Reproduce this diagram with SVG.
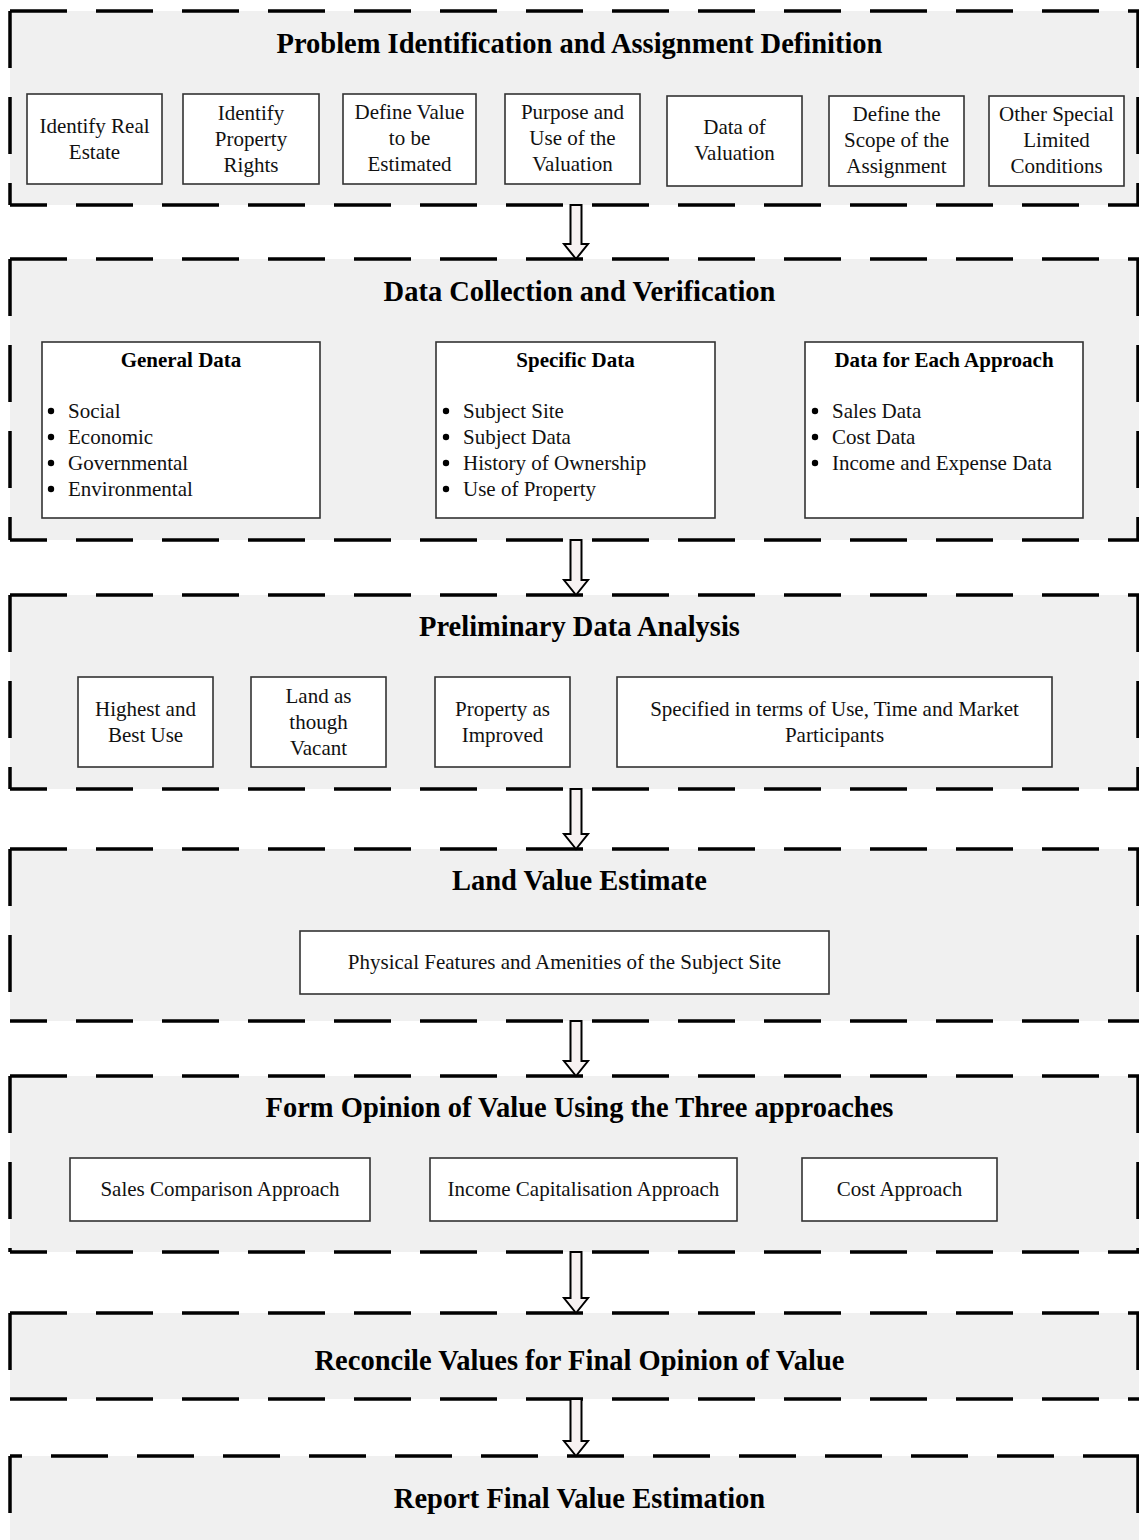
<svg xmlns="http://www.w3.org/2000/svg" width="1139" height="1540" viewBox="0 0 1139 1540">
  <style>
    .panel { fill: #f0f0f0; }
    .edge { stroke: #000; stroke-width: 3.5; stroke-dasharray: 57 29; fill: none; }
    .box { fill: #fff; stroke: #333; stroke-width: 1.6; }
    .title { font-family: "Liberation Serif", "Times New Roman", serif; font-weight: bold; font-size: 28.5px; text-anchor: middle; fill: #000; }
    .head { font-family: "Liberation Serif", "Times New Roman", serif; font-weight: bold; font-size: 21px; text-anchor: middle; fill: #000; }
    .lbl { font-family: "Liberation Serif", "Times New Roman", serif; font-size: 21px; text-anchor: middle; fill: #111; }
    .item { font-family: "Liberation Serif", "Times New Roman", serif; font-size: 21px; fill: #111; }
    .dot { fill: #000; }
    .arrow { fill: #f7f2f2; stroke: #000; stroke-width: 2; stroke-linejoin: miter; }
  </style>

  <!-- Stage 1 -->
  <g id="stage-problem">
    <rect class="panel" x="10" y="11" width="1130" height="194"/>
    <line class="edge" x1="10" y1="11" x2="1140" y2="11"/>
    <line class="edge" x1="10" y1="11" x2="10" y2="205"/>
    <line class="edge" x1="1138" y1="11" x2="1138" y2="205"/>
    <line class="edge" x1="10" y1="205" x2="1140" y2="205" stroke-dashoffset="20"/>
    <text class="title" x="579.5" y="53">Problem Identification and Assignment Definition</text>
  </g>
  <g id="identify-real-estate">
    <rect class="box" x="27" y="94" width="135" height="90"/>
    <text class="lbl" x="94.5" y="133">Identify Real</text>
    <text class="lbl" x="94.5" y="159">Estate</text>
  </g>
  <g id="identify-property-rights">
    <rect class="box" x="183" y="94" width="136" height="90"/>
    <text class="lbl" x="251" y="120">Identify</text>
    <text class="lbl" x="251" y="146">Property</text>
    <text class="lbl" x="251" y="172">Rights</text>
  </g>
  <g id="define-value">
    <rect class="box" x="343" y="94" width="133" height="90"/>
    <text class="lbl" x="409.5" y="119">Define Value</text>
    <text class="lbl" x="409.5" y="145">to be</text>
    <text class="lbl" x="409.5" y="171">Estimated</text>
  </g>
  <g id="purpose-use">
    <rect class="box" x="505" y="94" width="135" height="90"/>
    <text class="lbl" x="572.5" y="119">Purpose and</text>
    <text class="lbl" x="572.5" y="145">Use of the</text>
    <text class="lbl" x="572.5" y="171">Valuation</text>
  </g>
  <g id="data-of-valuation">
    <rect class="box" x="667" y="96" width="135" height="90"/>
    <text class="lbl" x="734.5" y="134">Data of</text>
    <text class="lbl" x="734.5" y="160">Valuation</text>
  </g>
  <g id="scope-of-assignment">
    <rect class="box" x="829" y="96" width="135" height="90"/>
    <text class="lbl" x="896.5" y="121">Define the</text>
    <text class="lbl" x="896.5" y="147">Scope of the</text>
    <text class="lbl" x="896.5" y="173">Assignment</text>
  </g>
  <g id="special-conditions">
    <rect class="box" x="989" y="96" width="135" height="90"/>
    <text class="lbl" x="1056.5" y="121">Other Special</text>
    <text class="lbl" x="1056.5" y="147">Limited</text>
    <text class="lbl" x="1056.5" y="173">Conditions</text>
  </g>

  <!-- Stage 2 -->
  <g id="stage-data-collection">
    <rect class="panel" x="10" y="259" width="1130" height="281"/>
    <line class="edge" x1="10" y1="259" x2="1140" y2="259"/>
    <line class="edge" x1="10" y1="259" x2="10" y2="540"/>
    <line class="edge" x1="1138" y1="259" x2="1138" y2="540"/>
    <line class="edge" x1="10" y1="540" x2="1140" y2="540" stroke-dashoffset="20"/>
    <text class="title" x="579.5" y="301">Data Collection and Verification</text>
  </g>
  <g id="general-data">
    <rect class="box" x="42" y="342" width="278" height="176"/>
    <text class="head" x="181" y="367">General Data</text>
    <circle class="dot" cx="51" cy="411" r="3.2"/>
    <circle class="dot" cx="51" cy="437" r="3.2"/>
    <circle class="dot" cx="51" cy="463" r="3.2"/>
    <circle class="dot" cx="51" cy="489" r="3.2"/>
    <text class="item" x="68" y="418">Social</text>
    <text class="item" x="68" y="444">Economic</text>
    <text class="item" x="68" y="470">Governmental</text>
    <text class="item" x="68" y="496">Environmental</text>
  </g>
  <g id="specific-data">
    <rect class="box" x="436" y="342" width="279" height="176"/>
    <text class="head" x="575.5" y="367">Specific Data</text>
    <circle class="dot" cx="446" cy="411" r="3.2"/>
    <circle class="dot" cx="446" cy="437" r="3.2"/>
    <circle class="dot" cx="446" cy="463" r="3.2"/>
    <circle class="dot" cx="446" cy="489" r="3.2"/>
    <text class="item" x="463" y="418">Subject Site</text>
    <text class="item" x="463" y="444">Subject Data</text>
    <text class="item" x="463" y="470">History of Ownership</text>
    <text class="item" x="463" y="496">Use of Property</text>
  </g>
  <g id="approach-data">
    <rect class="box" x="805" y="342" width="278" height="176"/>
    <text class="head" x="944" y="367">Data for Each Approach</text>
    <circle class="dot" cx="815" cy="411" r="3.2"/>
    <circle class="dot" cx="815" cy="437" r="3.2"/>
    <circle class="dot" cx="815" cy="463" r="3.2"/>
    <text class="item" x="832" y="418">Sales Data</text>
    <text class="item" x="832" y="444">Cost Data</text>
    <text class="item" x="832" y="470">Income and Expense Data</text>
  </g>

  <!-- Stage 3 -->
  <g id="stage-preliminary">
    <rect class="panel" x="10" y="595" width="1130" height="194"/>
    <line class="edge" x1="10" y1="595" x2="1140" y2="595"/>
    <line class="edge" x1="10" y1="595" x2="10" y2="789"/>
    <line class="edge" x1="1138" y1="595" x2="1138" y2="789"/>
    <line class="edge" x1="10" y1="789" x2="1140" y2="789" stroke-dashoffset="20"/>
    <text class="title" x="579.5" y="636">Preliminary Data Analysis</text>
  </g>
  <g id="highest-best-use">
    <rect class="box" x="78" y="677" width="135" height="90"/>
    <text class="lbl" x="145.5" y="716">Highest and</text>
    <text class="lbl" x="145.5" y="742">Best Use</text>
  </g>
  <g id="land-vacant">
    <rect class="box" x="251" y="677" width="135" height="90"/>
    <text class="lbl" x="318.5" y="703">Land as</text>
    <text class="lbl" x="318.5" y="729">though</text>
    <text class="lbl" x="318.5" y="755">Vacant</text>
  </g>
  <g id="property-improved">
    <rect class="box" x="435" y="677" width="135" height="90"/>
    <text class="lbl" x="502.5" y="716">Property as</text>
    <text class="lbl" x="502.5" y="742">Improved</text>
  </g>
  <g id="use-time-market">
    <rect class="box" x="617" y="677" width="435" height="90"/>
    <text class="lbl" x="834.5" y="716">Specified in terms of Use, Time and Market</text>
    <text class="lbl" x="834.5" y="742">Participants</text>
  </g>

  <!-- Stage 4 -->
  <g id="stage-land-value">
    <rect class="panel" x="10" y="849" width="1130" height="172"/>
    <line class="edge" x1="10" y1="849" x2="1140" y2="849"/>
    <line class="edge" x1="10" y1="849" x2="10" y2="1021"/>
    <line class="edge" x1="1138" y1="849" x2="1138" y2="1021"/>
    <line class="edge" x1="10" y1="1021" x2="1140" y2="1021" stroke-dashoffset="20"/>
    <text class="title" x="579.5" y="890">Land Value Estimate</text>
  </g>
  <g id="site-features">
    <rect class="box" x="300" y="931" width="529" height="63"/>
    <text class="lbl" x="564.5" y="969">Physical Features and Amenities of the Subject Site</text>
  </g>

  <!-- Stage 5 -->
  <g id="stage-three-approaches">
    <rect class="panel" x="10" y="1076" width="1130" height="176"/>
    <line class="edge" x1="10" y1="1076" x2="1140" y2="1076"/>
    <line class="edge" x1="10" y1="1076" x2="10" y2="1252"/>
    <line class="edge" x1="1138" y1="1076" x2="1138" y2="1252"/>
    <line class="edge" x1="10" y1="1252" x2="1140" y2="1252" stroke-dashoffset="20"/>
    <text class="title" x="579.5" y="1117">Form Opinion of Value Using the Three approaches</text>
  </g>
  <g id="sales-comparison">
    <rect class="box" x="70" y="1158" width="300" height="63"/>
    <text class="lbl" x="220" y="1196">Sales Comparison Approach</text>
  </g>
  <g id="income-capitalisation">
    <rect class="box" x="430" y="1158" width="307" height="63"/>
    <text class="lbl" x="583.5" y="1196">Income Capitalisation Approach</text>
  </g>
  <g id="cost-approach">
    <rect class="box" x="802" y="1158" width="195" height="63"/>
    <text class="lbl" x="899.5" y="1196">Cost Approach</text>
  </g>

  <!-- Stage 6 -->
  <g id="stage-reconcile">
    <rect class="panel" x="10" y="1313" width="1130" height="86"/>
    <line class="edge" x1="10" y1="1313" x2="1140" y2="1313"/>
    <line class="edge" x1="10" y1="1313" x2="10" y2="1399"/>
    <line class="edge" x1="1138" y1="1313" x2="1138" y2="1399"/>
    <line class="edge" x1="10" y1="1399" x2="1140" y2="1399"/>
    <text class="title" x="579.5" y="1370">Reconcile Values for Final Opinion of Value</text>
  </g>

  <!-- Stage 7 -->
  <g id="stage-report">
    <rect class="panel" x="10" y="1456" width="1130" height="100"/>
    <line class="edge" x1="10" y1="1456" x2="1140" y2="1456" stroke-dashoffset="45"/>
    <line class="edge" x1="10" y1="1456" x2="10" y2="1560"/>
    <line class="edge" x1="1138" y1="1456" x2="1138" y2="1560"/>
    <text class="title" x="579.5" y="1508">Report Final Value Estimation</text>
  </g>

  <!-- Hollow block arrows between stages -->
  <g id="connectors">
    <polygon class="arrow" points="570.5,205 581.5,205 581.5,244 588,244 576,259 564,244 570.5,244"/>
    <polygon class="arrow" points="570.5,540 581.5,540 581.5,580 588,580 576,595 564,580 570.5,580"/>
    <polygon class="arrow" points="570.5,789 581.5,789 581.5,834 588,834 576,849 564,834 570.5,834"/>
    <polygon class="arrow" points="570.5,1021 581.5,1021 581.5,1061 588,1061 576,1076 564,1061 570.5,1061"/>
    <polygon class="arrow" points="570.5,1252 581.5,1252 581.5,1298 588,1298 576,1313 564,1298 570.5,1298"/>
    <polygon class="arrow" points="570.5,1399 581.5,1399 581.5,1441 588,1441 576,1456 564,1441 570.5,1441"/>
  </g>
</svg>
